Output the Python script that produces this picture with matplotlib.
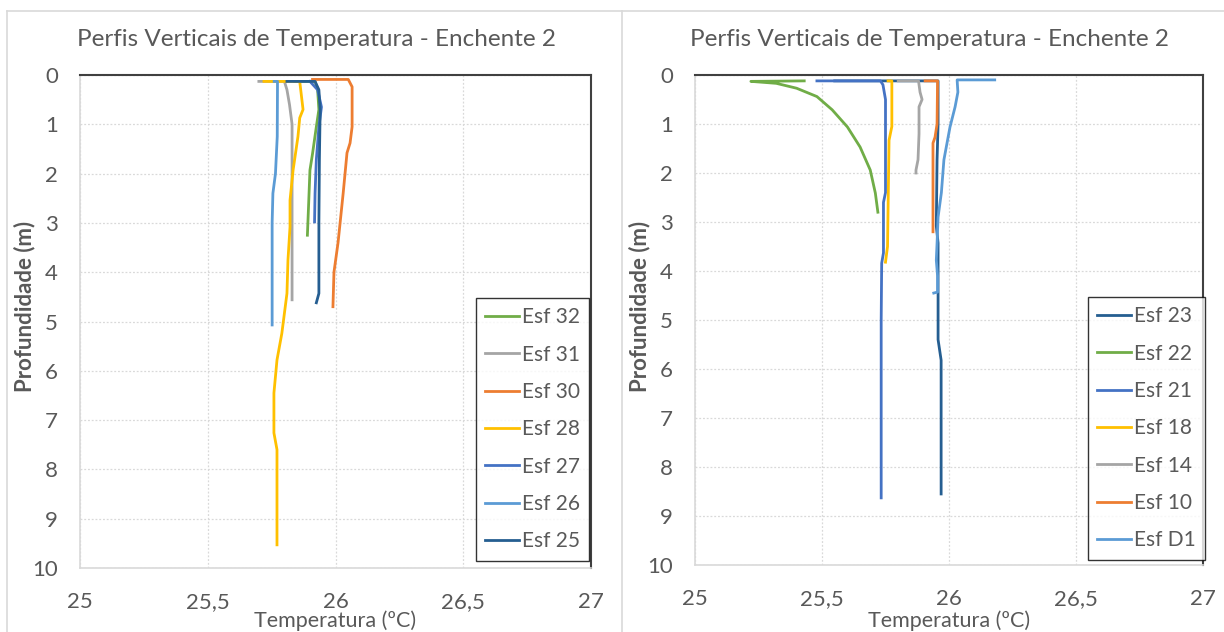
import matplotlib
matplotlib.use("Agg")
import matplotlib.pyplot as plt
from matplotlib.lines import Line2D
from matplotlib.ticker import FuncFormatter

plt.rcParams['font.family'] = ['Lato', 'DejaVu Sans']

# ---- left chart: series (temperature ºC, depth m) ----
esf32_t = [25.84, 25.92, 25.93, 25.935, 25.925, 25.91, 25.90, 25.895, 25.89]
esf32_d = [0.13, 0.13, 0.3, 0.7, 1.05, 1.6, 1.93, 2.6, 3.25]
esf31_t = [25.70, 25.80, 25.81, 25.82, 25.83, 25.83, 25.83]
esf31_d = [0.13, 0.13, 0.3, 0.6, 1.0, 2.0, 4.56]
esf30_t = [25.91, 26.05, 26.065, 26.065, 26.057, 26.045, 26.03, 26.01, 25.994, 25.99]
esf30_d = [0.09, 0.09, 0.24, 1.05, 1.38, 1.58, 2.4, 3.4, 4.0, 4.7]
esf28_t = [25.72, 25.86, 25.87, 25.873, 25.86, 25.853, 25.834, 25.822, 25.822,
           25.814, 25.81, 25.79, 25.771, 25.759, 25.759, 25.771, 25.771]
esf28_d = [0.13, 0.13, 0.57, 0.7, 0.87, 1.25, 1.93, 2.54, 3.08,
           3.75, 4.43, 5.24, 5.78, 6.45, 7.26, 7.6, 9.53]
esf27_t = [25.90, 25.93, 25.945, 25.935, 25.925, 25.92, 25.918]
esf27_d = [0.13, 0.3, 0.65, 1.05, 1.72, 2.4, 2.98]
esf26_t = [25.76, 25.773, 25.772, 25.765, 25.755, 25.752, 25.752]
esf26_d = [0.13, 0.13, 1.25, 2.0, 2.4, 3.0, 5.07]
esf25_t = [25.81, 25.92, 25.935, 25.94, 25.937, 25.935, 25.935, 25.925]
esf25_d = [0.13, 0.13, 0.3, 0.7, 1.7, 3.0, 4.43, 4.62]

# ---- right chart ----
esf23_t = [25.55, 25.957, 25.957, 25.953, 25.95, 25.957, 25.957, 25.969, 25.969]
esf23_d = [0.12, 0.12, 1.0, 1.73, 3.08, 3.43, 5.4, 5.82, 8.55]
esf22_t = [25.43, 25.22, 25.32, 25.40, 25.48, 25.54, 25.60, 25.65, 25.69, 25.71, 25.72]
esf22_d = [0.12, 0.13, 0.17, 0.27, 0.44, 0.71, 1.06, 1.47, 1.94, 2.41, 2.8]
esf21_t = [25.48, 25.73, 25.74, 25.745, 25.75, 25.75, 25.742, 25.742, 25.735, 25.733, 25.733]
esf21_d = [0.12, 0.12, 0.2, 0.35, 0.5, 2.4, 2.6, 3.63, 3.84, 5.0, 8.63]
esf18_t = [25.76, 25.775, 25.775, 25.764, 25.76, 25.758, 25.75]
esf18_d = [0.12, 0.12, 1.05, 1.33, 2.76, 3.5, 3.82]
esf14_t = [25.80, 25.88, 25.886, 25.894, 25.882, 25.882, 25.878, 25.87, 25.87]
esf14_d = [0.12, 0.12, 0.35, 0.5, 0.65, 1.2, 1.73, 1.94, 2.0]
esf10_t = [25.906, 25.955, 25.953, 25.945, 25.937, 25.937]
esf10_d = [0.12, 0.12, 1.0, 1.27, 1.39, 3.2]
esfd1_t = [26.18, 26.032, 26.035, 26.024, 26.004, 25.98, 25.97, 25.957,
           25.953, 25.95, 25.955, 25.955, 25.94]
esfd1_d = [0.1, 0.1, 0.35, 0.65, 1.06, 1.73, 2.4, 2.9,
           3.43, 3.78, 4.1, 4.43, 4.45]

x_ticks = [25, 25.5, 26, 26.5, 27]
y_ticks = list(range(0, 11))

GREEN = "#70AD47"
GRAY = "#A5A5A5"
ORANGE = "#ED7D31"
GOLD = "#FFC000"
BLUE = "#4472C4"
LBLUE = "#5B9BD5"
DBLUE = "#255E91"
TXT = "#595959"

left_series = [
    ("Esf 32", esf32_t, esf32_d, GREEN),
    ("Esf 31", esf31_t, esf31_d, GRAY),
    ("Esf 30", esf30_t, esf30_d, ORANGE),
    ("Esf 28", esf28_t, esf28_d, GOLD),
    ("Esf 27", esf27_t, esf27_d, BLUE),
    ("Esf 26", esf26_t, esf26_d, LBLUE),
    ("Esf 25", esf25_t, esf25_d, DBLUE),
]
right_series = [
    ("Esf 23", esf23_t, esf23_d, DBLUE),
    ("Esf 22", esf22_t, esf22_d, GREEN),
    ("Esf 21", esf21_t, esf21_d, BLUE),
    ("Esf 18", esf18_t, esf18_d, GOLD),
    ("Esf 14", esf14_t, esf14_d, GRAY),
    ("Esf 10", esf10_t, esf10_d, ORANGE),
    ("Esf D1", esfd1_t, esfd1_d, LBLUE),
]

W, H = 1224, 632
fig = plt.figure(figsize=(12.24, 6.32), dpi=100)


def fx(px):
    return px / W


def fy(py):
    return 1 - py / H


# panel borders
for (x0, y0, x1, y1) in [(7, 11, 7, H), (7, 11, W, 11), (622, 11, 622, H)]:
    fig.add_artist(Line2D([fx(x0), fx(x1)], [fy(y0), fy(y1)], color="#D9D9D9", lw=1.2))


def comma(v, pos):
    s = ("%g" % v).replace(".", ",")
    return s


def draw(series, left, right, bottom, title_x, ylab_x, leg_xy):
    ax = fig.add_axes([fx(left), fy(bottom), fx(right) - fx(left), fy(75) - fy(bottom)])
    for name, t, d, c in series:
        ax.plot(t, d, color=c, lw=2.0, label=name, solid_joinstyle="round")
    ax.set_xlim(25, 27)
    ax.set_ylim(10, 0)
    ax.set_xticks(x_ticks)
    ax.set_yticks(y_ticks)
    ax.xaxis.set_major_formatter(FuncFormatter(comma))
    ax.tick_params(length=0, labelsize=16, colors=TXT)
    ax.tick_params(axis="x", pad=17)
    ax.tick_params(axis="y", pad=16)
    ax.grid(True, color="#D9D9D9", linestyle=(0, (1.5, 1.5)), lw=0.9)
    ax.set_axisbelow(True)
    for s in ("top", "right"):
        ax.spines[s].set_color("#404040")
        ax.spines[s].set_linewidth(1.5)
    for s in ("left", "bottom"):
        ax.spines[s].set_color("#D9D9D9")
        ax.spines[s].set_linewidth(1.2)
    fig.text(fx(title_x), fy(40), "Perfis Verticais de Temperatura - Enchente 2",
             ha="center", va="center", fontsize=17.5, color=TXT)
    fig.text(fx((left + right) / 2), fy(631), "Temperatura (ºC)",
             ha="center", va="bottom", fontsize=15.5, color=TXT)
    fig.text(fx(ylab_x), fy(306), "Profundidade (m)", rotation=90,
             ha="center", va="center", fontsize=16, color=TXT, fontweight="bold")
    leg = ax.legend(loc="upper left", bbox_to_anchor=(fx(leg_xy[0]), fy(leg_xy[1])),
                    bbox_transform=fig.transFigure, fontsize=15, frameon=True,
                    fancybox=False, edgecolor="black", handlelength=1.6,
                    handletextpad=0.15, labelspacing=0.83, borderpad=0.45,
                    borderaxespad=0)
    leg.get_frame().set_linewidth(1.0)
    for txt in leg.get_texts():
        txt.set_color(TXT)
    return ax


draw(left_series, 80, 591, 568, 316, 25, (476, 298))
draw(right_series, 695, 1203, 565, 929, 640, (1088, 297))

fig.savefig("out.png", dpi=100)
